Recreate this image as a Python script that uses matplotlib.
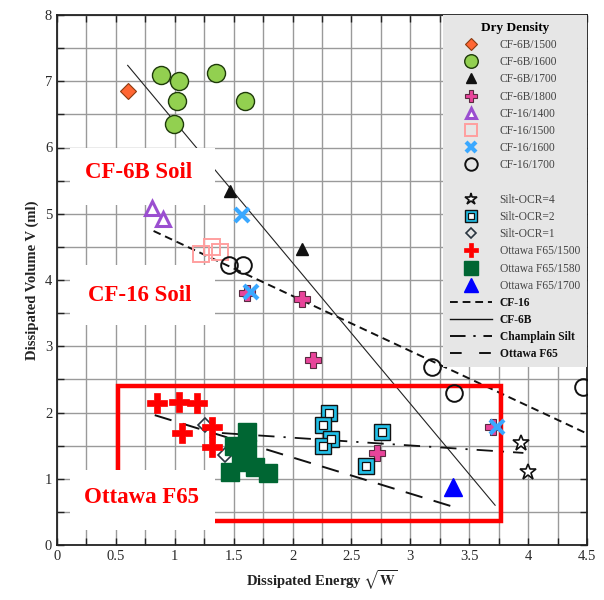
import matplotlib
matplotlib.use("Agg")
import matplotlib.pyplot as plt
from matplotlib.lines import Line2D
from matplotlib.patches import Rectangle
from matplotlib.legend_handler import HandlerTuple
from matplotlib.ticker import MultipleLocator, FuncFormatter

plt.rcParams['font.family'] = ['Liberation Serif', 'DejaVu Serif']
plt.rcParams['mathtext.fontset'] = 'stix'

# ---------------- data ----------------
cf6b_1500_x = [0.60]
cf6b_1500_y = [6.86]
cf6b_1600_x = [0.88, 1.04, 1.02, 0.99, 1.35, 1.60]
cf6b_1600_y = [7.10, 7.00, 6.70, 6.36, 7.12, 6.70]
cf6b_1700_x = [1.47, 2.08]
cf6b_1700_y = [5.35, 4.47]
cf6b_1800_x = [1.61, 2.08, 2.17, 2.72, 3.70]
cf6b_1800_y = [3.80, 3.72, 2.80, 1.39, 1.78]
cf16_1400_x = [0.81, 0.90]
cf16_1400_y = [5.08, 4.92]
cf16_1500_x = [1.22, 1.32, 1.38]
cf16_1500_y = [4.40, 4.50, 4.42]
cf16_1600_x = [1.57, 1.65, 3.74]
cf16_1600_y = [4.98, 3.82, 1.78]
cf16_1700_x = [1.46, 1.58, 3.18, 3.37, 4.47]
cf16_1700_y = [4.22, 4.22, 2.68, 2.29, 2.39]
silt_ocr4_x = [3.94, 4.00]
silt_ocr4_y = [1.54, 1.10]
silt_ocr2_x = [2.31, 2.26, 2.33, 2.26, 2.76, 2.62]
silt_ocr2_y = [2.00, 1.81, 1.60, 1.49, 1.70, 1.19]
silt_ocr1_x = [1.26, 1.43]
silt_ocr1_y = [1.81, 1.36]
ott_1500_x = [0.85, 1.04, 1.19, 1.06, 1.32, 1.32]
ott_1500_y = [2.14, 2.16, 2.14, 1.69, 1.78, 1.48]
ott_1580_x = [1.47, 1.50, 1.56, 1.61, 1.61, 1.58, 1.68, 1.79]
ott_1580_y = [1.10, 1.50, 1.35, 1.71, 1.45, 1.25, 1.17, 1.09]
ott_1700_x = [3.36]
ott_1700_y = [0.88]

# trend lines (end points)
fit_cf16_x = [0.82, 4.49]
fit_cf16_y = [4.74, 1.69]
fit_cf6b_x = [0.60, 3.72]
fit_cf6b_y = [7.24, 0.60]
fit_silt_x = [1.40, 3.96]
fit_silt_y = [1.69, 1.39]
fit_ott_x = [0.83, 3.34]
fit_ott_y = [1.96, 0.59]

# highlighted region and labels
ott_region = [0.52, 3.77, 0.36, 2.40]   # x0, x1, y0, y1
label_texts = ['CF-6B Soil', 'CF-16 Soil', 'Ottawa F65']
label_x = [0.69, 0.70, 0.72]
label_y = [5.63, 3.77, 0.72]
label_box_y = [(5.13, 5.99), (3.32, 4.22), (0.23, 1.13)]
label_box_x = (0.11, 1.34)

# ---------------- figure ----------------
fig = plt.figure(figsize=(6.04, 6.0), dpi=100)
ax = fig.add_axes([57/604, 1-545/600, (587-57)/604, (545-15)/600])
ax.set_xlim(0, 4.5)
ax.set_ylim(0, 8)
ax.xaxis.set_major_locator(MultipleLocator(0.5))
ax.xaxis.set_minor_locator(MultipleLocator(0.25))
ax.yaxis.set_major_locator(MultipleLocator(1))
ax.yaxis.set_minor_locator(MultipleLocator(0.5))
ax.xaxis.set_major_formatter(FuncFormatter(lambda v, p: '%g' % v))
ax.grid(True, which='both', color='#9a9a9a', lw=1.0)
ax.set_axisbelow(True)
ax.tick_params(which='both', direction='in', top=True, right=True, length=5, width=1, colors='#222222',
               labelsize=10.5, labelcolor='#2a2a2a')
for s in ax.spines.values():
    s.set_linewidth(1.3)
    s.set_color('#222222')

# trend lines
ax.plot(fit_cf16_x, fit_cf16_y, color='#111111', lw=1.4, dashes=(4, 2.5), zorder=2)
ax.plot(fit_cf6b_x, fit_cf6b_y, color='#222222', lw=0.8, zorder=2)
ax.plot(fit_silt_x, fit_silt_y, color='#111111', lw=1.3, dashes=(9, 5, 1.2, 5), zorder=2)
ax.plot(fit_ott_x, fit_ott_y, color='#111111', lw=1.4, dashes=(9, 6), zorder=2)

# red region
x0, x1, y0, y1 = ott_region
ax.add_patch(Rectangle((x0, y0), x1-x0, y1-y0, fill=False, edgecolor='#ff0000', lw=3.2, zorder=2.2))

# white label boxes and text
for t, tx, ty, (by0, by1) in zip(label_texts, label_x, label_y, label_box_y):
    ax.add_patch(Rectangle((label_box_x[0], by0), label_box_x[1]-label_box_x[0], by1-by0,
                           facecolor='white', edgecolor='none', zorder=2.5))
    ax.text(tx, ty, t, color='#ff0000', fontsize=16.5, fontweight='bold', ha='center', va='center', zorder=5)

# markers
h = {}
h['CF-6B/1500'] = ax.plot(cf6b_1500_x, cf6b_1500_y, 'D', ms=8.5, mfc='#ff6633', mec='#8a3a10', mew=0.8, ls='none', zorder=3)[0]
h['CF-6B/1600'] = ax.plot(cf6b_1600_x, cf6b_1600_y, 'o', ms=13, mfc='#92d050', mec='#1e3a0a', mew=1.0, ls='none', zorder=3)[0]
h['CF-6B/1700'] = ax.plot(cf6b_1700_x, cf6b_1700_y, '^', ms=9, mfc='#111111', mec='#111111', ls='none', zorder=3)[0]
h['CF-6B/1800'] = ax.plot(cf6b_1800_x, cf6b_1800_y, 'P', ms=11, mfc='#e8449a', mec='#5a2a40', mew=0.8, ls='none', zorder=3)[0]
h['CF-16/1400'] = ax.plot(cf16_1400_x, cf16_1400_y, '^', ms=10, mfc='white', mec='#9b4fd0', mew=2.2, ls='none', zorder=3)[0]
h['CF-16/1500'] = ax.plot(cf16_1500_x, cf16_1500_y, 's', ms=11, mfc='none', mec='#ff9f9f', mew=1.4, ls='none', zorder=3)[0]
h['CF-16/1600'] = ax.plot(cf16_1600_x, cf16_1600_y, 'x', ms=10, mec='#3aa8ff', mew=3.0, ls='none', zorder=3.1)[0]
h['CF-16/1700'] = ax.plot(cf16_1700_x, cf16_1700_y, 'o', ms=12, mfc='none', mec='#111111', mew=1.4, ls='none', zorder=3)[0]
h['Silt-OCR=4'] = ax.plot(silt_ocr4_x, silt_ocr4_y, '*', ms=12, mfc='white', mec='#111111', mew=1.2, ls='none', zorder=3)[0]
o2a = ax.plot(silt_ocr2_x, silt_ocr2_y, 's', ms=12, mfc='#22c0e8', mec='#111111', mew=1.0, ls='none', zorder=3)[0]
o2b = ax.plot(silt_ocr2_x, silt_ocr2_y, 's', ms=6, mfc='white', mec='#111111', mew=0.9, ls='none', zorder=3.05)[0]
h['Silt-OCR=2'] = (o2a, o2b)
h['Silt-OCR=1'] = ax.plot(silt_ocr1_x, silt_ocr1_y, 'D', ms=7, mfc='none', mec='#2a3540', mew=1.2, ls='none', zorder=3)[0]
h['Ottawa F65/1500'] = ax.plot(ott_1500_x, ott_1500_y, 'P', ms=14, mfc='#ff0000', mec='#ff0000', mew=0.5, ls='none', zorder=3)[0]
h['Ottawa F65/1580'] = ax.plot(ott_1580_x, ott_1580_y, 's', ms=13, mfc='#006633', mec='#006633', ls='none', zorder=3)[0]
h['Ottawa F65/1700'] = ax.plot(ott_1700_x, ott_1700_y, '^', ms=13, mfc='#0000ff', mec='#0000ff', ls='none', zorder=3)[0]

blank = Line2D([], [], ls='none', marker='none')
lh = {
    'CF-16': Line2D([], [], color='#111111', lw=1.4, dashes=(4, 2.5)),
    'CF-6B': Line2D([], [], color='#111111', lw=1.0),
    'Champlain Silt': Line2D([], [], color='#111111', lw=1.4, dashes=(8, 4, 1.2, 4)),
    'Ottawa F65': Line2D([], [], color='#111111', lw=1.4, dashes=(6, 9)),
}
order = ['CF-6B/1500', 'CF-6B/1600', 'CF-6B/1700', 'CF-6B/1800', 'CF-16/1400', 'CF-16/1500',
         'CF-16/1600', 'CF-16/1700', '', 'Silt-OCR=4', 'Silt-OCR=2', 'Silt-OCR=1',
         'Ottawa F65/1500', 'Ottawa F65/1580', 'Ottawa F65/1700']
handles = [h[k] if k else blank for k in order] + list(lh.values())
labels = order + list(lh.keys())
leg = ax.legend(handles, labels, loc='upper right', borderaxespad=0, fontsize=8.3,
                title='Dry Density', title_fontproperties={'weight': 'bold', 'size': 9.5},
                facecolor='#e6e6e6', edgecolor='none', framealpha=1, fancybox=False,
                labelspacing=0.45, handlelength=3.6, handletextpad=0.7, markerscale=0.75,
                borderpad=0.6, handler_map={tuple: HandlerTuple(ndivide=1)})
leg.set_zorder(6)
for txt, lab in zip(leg.get_texts(), labels):
    if lab in lh:
        txt.set_fontweight('bold')
        txt.set_color('#111111')
    else:
        txt.set_color('#444444')

ax.set_ylabel('Dissipated Volume V (ml)', fontsize=10.5, fontweight='bold', color='#222222', labelpad=4)
ax.set_xlabel(r'Dissipated Energy $\sqrt{\mathbf{W}}$', fontsize=10.5, fontweight='bold', color='#222222', labelpad=4)

fig.savefig('out.png', dpi=100)
